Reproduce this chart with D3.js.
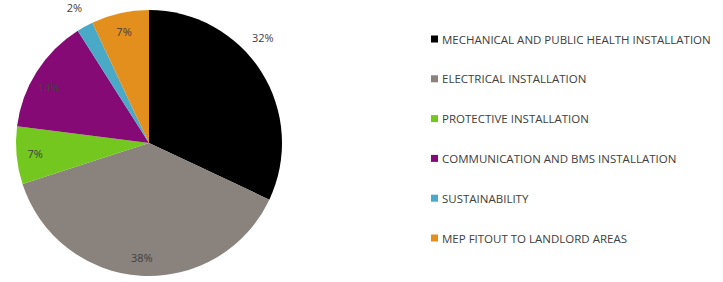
<!DOCTYPE html>
<html>
<head>
<meta charset="utf-8">
<script src="https://cdn.jsdelivr.net/npm/d3@7"></script>
<style>
  body { margin: 0; background: #fff; }
  text { font-family: "Open Sans", sans-serif; fill: #404040; }
</style>
</head>
<body>
<svg id="chart" width="723" height="282"></svg>
<script>
// chart data
var categories = [
  "MECHANICAL AND PUBLIC HEALTH INSTALLATION",
  "ELECTRICAL INSTALLATION",
  "PROTECTIVE INSTALLATION",
  "COMMUNICATION AND BMS INSTALLATION",
  "SUSTAINABILITY",
  "MEP FITOUT TO LANDLORD AREAS"
];
var values = [32, 38, 7, 14, 2, 7];
var colors = ["#000000", "#8a827d", "#74c71f", "#860a76", "#4ba9c8", "#e28f1d"];

// label placement: inside the slice or just outside the rim (Excel "best fit")
var labelOutside = [true, false, false, false, true, false];
var labelShift = [-0.18, 0, 0, -0.06, 0, 0]; // radians

var svg = d3.select("#chart");
var cx = 149, cy = 143, r = 133;

var pie = d3.pie().sort(null).value(function(d) { return d; });
var arcs = pie(values);
var arc = d3.arc().innerRadius(0).outerRadius(r);

var g = svg.append("g").attr("transform", "translate(" + cx + "," + cy + ")");

g.selectAll("path.slice")
  .data(arcs)
  .enter().append("path")
  .attr("class", "slice")
  .attr("d", arc)
  .attr("fill", function(d, i) { return colors[i]; });

g.selectAll("text.pct")
  .data(arcs)
  .enter().append("text")
  .attr("class", "pct")
  .attr("text-anchor", "middle")
  .attr("dominant-baseline", "central")
  .style("font-size", "11px")
  .attr("transform", function(d, i) {
    var a = (d.startAngle + d.endAngle) / 2 + labelShift[i];
    var lr = labelOutside[i] ? r + 22 : r * 0.86;
    return "translate(" + (lr * Math.sin(a)) + "," + (-lr * Math.cos(a)) + ")";
  })
  .text(function(d) { return d.value + "%"; });

// legend
var legend = svg.append("g").attr("transform", "translate(431,39)");
var rowH = 39.8;
var item = legend.selectAll("g.item")
  .data(categories)
  .enter().append("g")
  .attr("class", "item")
  .attr("transform", function(d, i) { return "translate(0," + (i * rowH) + ")"; });

item.append("rect")
  .attr("x", 0).attr("y", -3.5)
  .attr("width", 7).attr("height", 7)
  .attr("fill", function(d, i) { return colors[i]; });

item.append("text")
  .attr("x", 11)
  .attr("dominant-baseline", "central")
  .style("font-size", "11.5px")
  .text(function(d) { return d; });
</script>
</body>
</html>
